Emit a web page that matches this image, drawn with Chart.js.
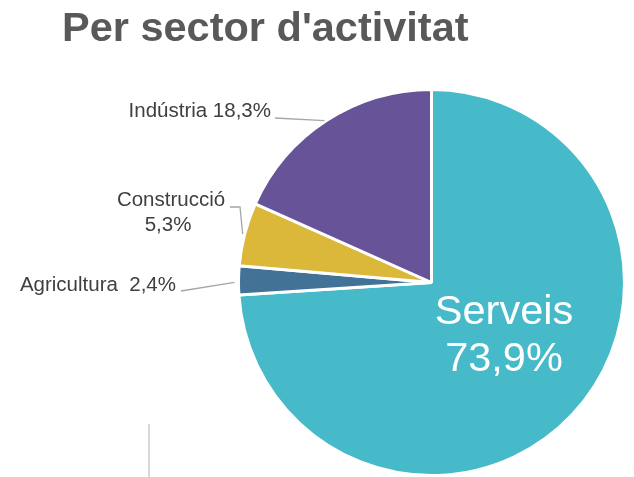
<!DOCTYPE html>
<html>
<head>
<meta charset="utf-8">
<script src="https://cdn.jsdelivr.net/npm/chart.js@4/dist/chart.umd.min.js"></script>
<style>
  body { margin: 0; background: #fff; }
  #wrap { width: 634px; height: 477px; position: relative; }
</style>
</head>
<body>
<div id="wrap"><canvas id="pie"></canvas></div>
<script>
// dades
var sectors = ['Serveis', 'Agricultura', 'Construcció', 'Indústria'];
var percents = [73.9, 2.4, 5.3, 18.3];
var colors = ['#46bac8', '#427397', '#dbb73a', '#675397'];

function fmt(v) {
    return v.toFixed(1).replace('.', ',') + '%';
}

// etiquetes i línies guia, dibuixades a partir dels arcs
var labelsPlugin = {
    id: 'labelsPlugin',
    afterDraw: function(chart) {
        var ctx = chart.ctx;
        var arcs = chart.getDatasetMeta(0).data;
        var font = '20.5px "Liberation Sans", Arial, sans-serif';

        function midPoint(i, extra) {
            var a = arcs[i];
            var m = (a.startAngle + a.endAngle) / 2;
            var r = a.outerRadius + extra;
            return { x: a.x + Math.cos(m) * r, y: a.y + Math.sin(m) * r };
        }

        ctx.save();
        // títol
        ctx.fillStyle = '#595959';
        ctx.font = 'bold 41.5px "Liberation Sans", Arial, sans-serif';
        ctx.textAlign = 'left';
        ctx.textBaseline = 'alphabetic';
        ctx.fillText("Per sector d'activitat", 62, 41);

        // Serveis, dins del pastís
        ctx.fillStyle = '#ffffff';
        ctx.font = '41.5px "Liberation Sans", Arial, sans-serif';
        ctx.textAlign = 'center';
        ctx.textBaseline = 'middle';
        ctx.fillText(sectors[0], 504, 313);
        ctx.fillText(fmt(percents[0]), 504, 360);

        // línies guia
        ctx.strokeStyle = '#a6a6a6';
        ctx.lineWidth = 1.3;
        var p;
        p = midPoint(3, 0);
        ctx.beginPath(); ctx.moveTo(275, 118); ctx.lineTo(p.x - 2, p.y); ctx.stroke();
        p = midPoint(2, 0);
        ctx.beginPath(); ctx.moveTo(230, 207); ctx.lineTo(240, 207); ctx.lineTo(p.x - 2, p.y); ctx.stroke();
        p = midPoint(1, 4);
        ctx.beginPath(); ctx.moveTo(181, 291); ctx.lineTo(p.x, p.y + 2); ctx.stroke();

        // textos de les etiquetes
        ctx.fillStyle = '#404040';
        ctx.font = font;
        ctx.textBaseline = 'middle';
        ctx.textAlign = 'right';
        ctx.fillText(sectors[3] + ' ' + fmt(percents[3]), 271, 111);
        ctx.textAlign = 'center';
        ctx.fillText(sectors[2], 171, 200);
        ctx.fillText(fmt(percents[2]), 168, 225);
        ctx.textAlign = 'right';
        ctx.fillText(sectors[1] + '  ' + fmt(percents[1]), 176, 285);

        // línia grisa de baix
        ctx.strokeStyle = '#d9d9d9';
        ctx.lineWidth = 2;
        ctx.beginPath(); ctx.moveTo(149, 424); ctx.lineTo(149, 477); ctx.stroke();
        ctx.restore();
    }
};

var chart = new Chart(document.getElementById('pie'), {
    type: 'pie',
    data: {
        labels: sectors,
        datasets: [{
            data: percents,
            backgroundColor: colors,
            borderColor: '#ffffff',
            borderWidth: 3
        }]
    },
    options: {
        responsive: true,
        maintainAspectRatio: false,
        animation: false,
        layout: { padding: { left: 237, right: 8, top: 88, bottom: 0 } },
        plugins: {
            legend: { display: false },
            tooltip: { enabled: false },
            title: { display: false }
        }
    },
    plugins: [labelsPlugin]
});
</script>
</body>
</html>
